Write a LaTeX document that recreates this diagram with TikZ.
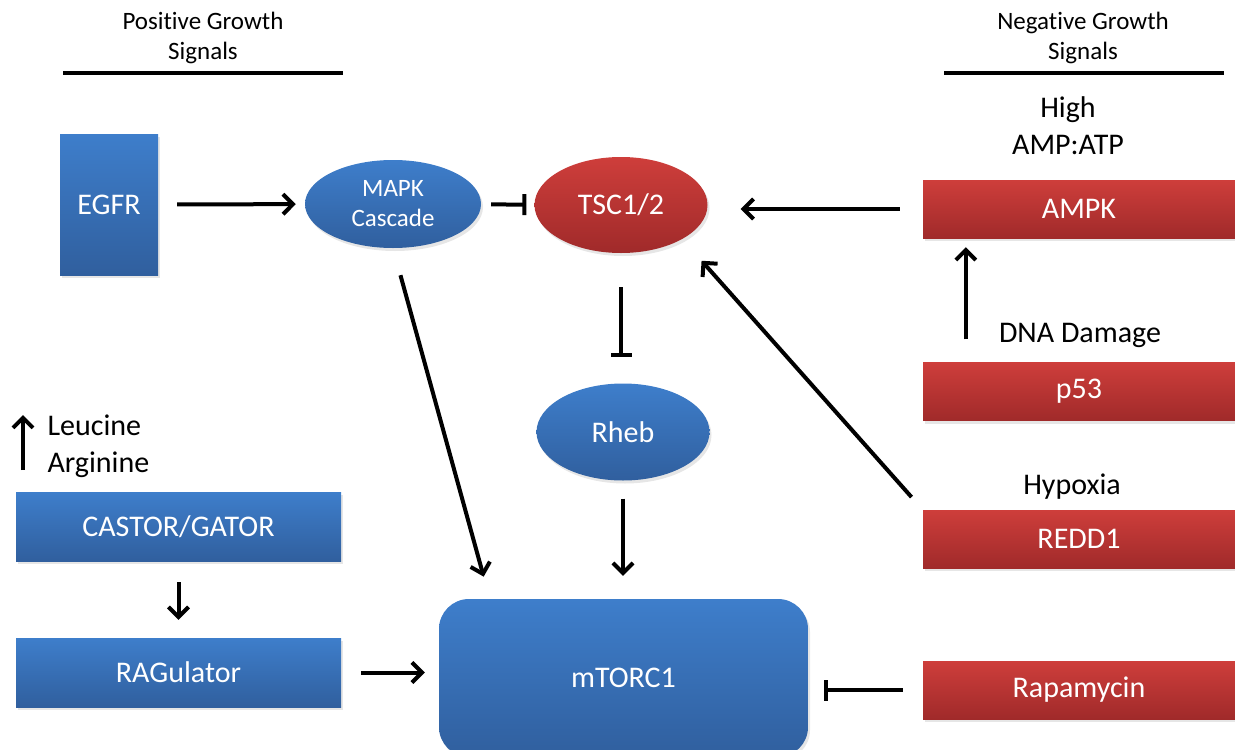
\documentclass[tikz,border=0pt]{standalone}
\usepackage{fontspec}
\setmainfont{Carlito}[RawFeature={-liga;-clig}]
\usetikzlibrary{shapes,arrows.meta,positioning,calc,shadows}
\definecolor{mtblueA}{RGB}{62,126,203}
\definecolor{mtblueB}{RGB}{48,95,158}
\definecolor{mtredA}{RGB}{206,62,59}
\definecolor{mtredB}{RGB}{160,42,42}

\begin{document}
\begin{tikzpicture}[x=1pt, y=-1pt,
    box/.style={rectangle, inner sep=0pt, text=white, font=\fontsize{30}{36}\selectfont,
                drop shadow={shadow xshift=2pt, shadow yshift=-3pt, opacity=0.2}},
    bluebox/.style={box, top color=mtblueA, bottom color=mtblueB},
    redbox/.style={box, top color=mtredA, bottom color=mtredB},
    blueoval/.style={bluebox, ellipse},
    redoval/.style={redbox, ellipse},
    act/.style={-{Straight Barb[length=10pt, width=20pt]}, line width=4pt},
    inh/.style={-{Bar[width=21pt]}, line width=4pt},
    cuetext/.style={font=\fontsize{30}{37}\selectfont, align=center},
    heading/.style={font=\fontsize{25}{30}\selectfont, align=center},
]
\useasboundingbox (0,0) rectangle (1235,750);

% headings
\node[heading] (pos) at (203,38) {Positive Growth\\Signals};
\node[heading] (neg) at (1083,38) {Negative Growth\\Signals};
\draw[line width=4pt] (63,73) -- (343,73);
\draw[line width=4pt] (944,73) -- (1224,73);

% positive side
\node[bluebox, minimum width=98, minimum height=141] (egfr) at (109,204.5) {EGFR};
\node[blueoval, minimum width=176, minimum height=88, align=center,
      font=\fontsize{25}{30}\selectfont] (mapk) at (393,204) {MAPK\\Cascade};
\node[redoval, minimum width=173, minimum height=96] (tsc) at (621,205) {TSC1/2};
\node[blueoval, minimum width=173, minimum height=97] (rheb) at (623,432) {Rheb};
\node[bluebox, rounded corners=30pt, minimum width=369, minimum height=158] (mtor) at (623.5,678) {mTORC1};

\node[cuetext, align=left, anchor=west] (aa) at (44,446) {Leucine\\Arginine};
\node[bluebox, minimum width=325, minimum height=69] (castor) at (178.5,526.5) {CASTOR/GATOR};
\node[bluebox, minimum width=325, minimum height=69] (rag) at (178.5,672.5) {RAGulator};

% negative side
\node[cuetext] (amp) at (1068,126) {High\\AMP:ATP};
\node[redbox, minimum width=312, minimum height=58] (ampk) at (1079,209) {AMPK};
\node[cuetext] (dna) at (1080,335) {DNA Damage};
\node[redbox, minimum width=312, minimum height=58] (p53) at (1079,391.5) {p53};
\node[cuetext] (hyp) at (1072,487) {Hypoxia};
\node[redbox, minimum width=312, minimum height=58] (redd1) at (1079,539) {REDD1};
\node[redbox, minimum width=312, minimum height=58] (rapa) at (1079,690) {Rapamycin};

% connectors
\draw[act, shorten <=19pt, shorten >=9pt] (egfr) -- (mapk);
\draw[inh, shorten <=10pt, shorten >=8pt] (mapk) -- (tsc);
\draw[act, shorten <=23pt, shorten >=33pt] (ampk.west) -- (ampk.west -| tsc.east);
\draw[inh, shorten <=34pt, shorten >=26pt] (tsc.south) -- (tsc.south |- rheb.north);
\draw[act, shorten <=18pt, shorten >=23pt] (rheb.south) -- (rheb.south |- mtor.north);
\draw[act, shorten <=28pt, shorten >=23pt] (mapk.south) -- ($(mtor.north west)+(51,0)$);
\draw[act, shorten <=23pt, shorten >=9pt] ($(p53.north west)+(43,0)$) -- ($(ampk.south west)+(43,0)$);
\draw[act, shorten <=17pt, shorten >=29pt] (redd1.north west) -- (tsc.south east);
\draw[act, shorten <=21pt, shorten >=18pt] (castor) -- (rag);
\draw[act, shorten <=20pt, shorten >=14pt] (rag.east) -- (rag.east -| mtor.west);
\draw[inh, shorten <=20pt, shorten >=16pt] (rapa.west) -- (rapa.west -| mtor.east);

\coordinate (aalo) at (23,470);
\coordinate (aahi) at (23,415);
\draw[act] (aalo) -- (aahi);

\end{tikzpicture}
\end{document}
